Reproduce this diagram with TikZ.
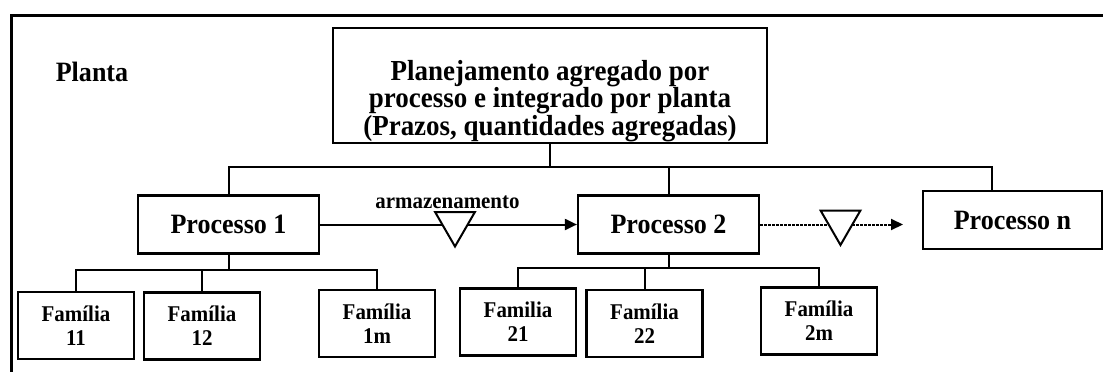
\documentclass[tikz,border=0pt]{standalone}
\usepackage{fontspec}
\setmainfont{Liberation Serif}[FakeStretch=0.93]
\usetikzlibrary{arrows.meta,shapes.geometric}

\begin{document}
\begin{tikzpicture}[
    x=1pt, y=-1pt,
    box/.style={draw, line width=2.2pt, align=center, inner sep=0pt},
    planbox/.style={box, minimum width=434pt, minimum height=115pt, font=\fontsize{29}{26}\selectfont\bfseries},
    procbox/.style={box, minimum width=181pt, minimum height=58pt, font=\fontsize{28}{28}\selectfont\bfseries},
    fambox/.style={box, minimum width=116pt, minimum height=67pt, font=\fontsize{22.5}{24}\selectfont\bfseries},
    store/.style={draw, fill=white, line width=2pt, regular polygon, regular polygon sides=3, shape border rotate=180, minimum size=46pt, inner sep=0pt},
    link/.style={line width=2pt},
    line/.style={-{Triangle[length=12pt,width=11pt]}, line width=2pt}
]
\useasboundingbox (0,0) rectangle (1103,372);
\draw[line width=3pt] (1110,15) -- (11,15) -- (11,380);

\node[font=\fontsize{28}{28}\selectfont\bfseries, anchor=base] (planta) at (92,81) {Planta};
\node[planbox] (plan) at (550,85.5) {\rule{0pt}{51pt}Planejamento agregado por\\processo e integrado por planta\\(Prazos, quantidades agregadas)};

\node[procbox] (proc1) at (228.5,224.5) {Processo 1};
\node[procbox] (proc2) at (668.5,224.5) {Processo 2};
\node[procbox, minimum width=179pt] (procn) at (1012.5,220) {Processo n};

\node[fambox] (f11) at (76,325.5) {Família\\11};
\node[fambox] (f12) at (202,326) {Família\\12};
\node[fambox] (f1m) at (377,323.5) {Família\\1m};
\node[fambox] (f21) at (518,322) {Familia\\21};
\node[fambox] (f22) at (644.5,323.5) {Família\\22};
\node[fambox] (f2m) at (819,321) {Família\\2m};

\coordinate (bus) at (550,167);
\coordinate (ntop) at (992,191);
\coordinate (bus1) at (228.5,270);
\coordinate (bus2) at (668.5,268);
\coordinate (dotend) at (903,224.5);

\draw[link] (plan) -- (bus);
\draw[link] (proc1) |- (bus) -| (ntop);
\draw[link] (proc2) -- (proc2 |- bus);

\draw[link] (proc1) -- (bus1);
\draw[link] (f11) |- (bus1) -| (f1m);
\draw[link] (f12) -- (f12 |- bus1);
\draw[link] (proc2) -- (bus2);
\draw[link] (f21) |- (bus2) -| (f2m);
\draw[link] (f22) -- (f22 |- bus2);

\draw[line] (proc1) -- (proc2);
\draw[line, dash pattern=on 2.5pt off 1.5pt] (proc2) -- (dotend);
\node[store] (store1) at (455,223.5) {};
\node[store] (store2) at (840.5,222) {};
\node[font=\fontsize{22.5}{22.5}\selectfont\bfseries, anchor=base] (armaz) at (447.5,208) {armazenamento};
\end{tikzpicture}
\end{document}
